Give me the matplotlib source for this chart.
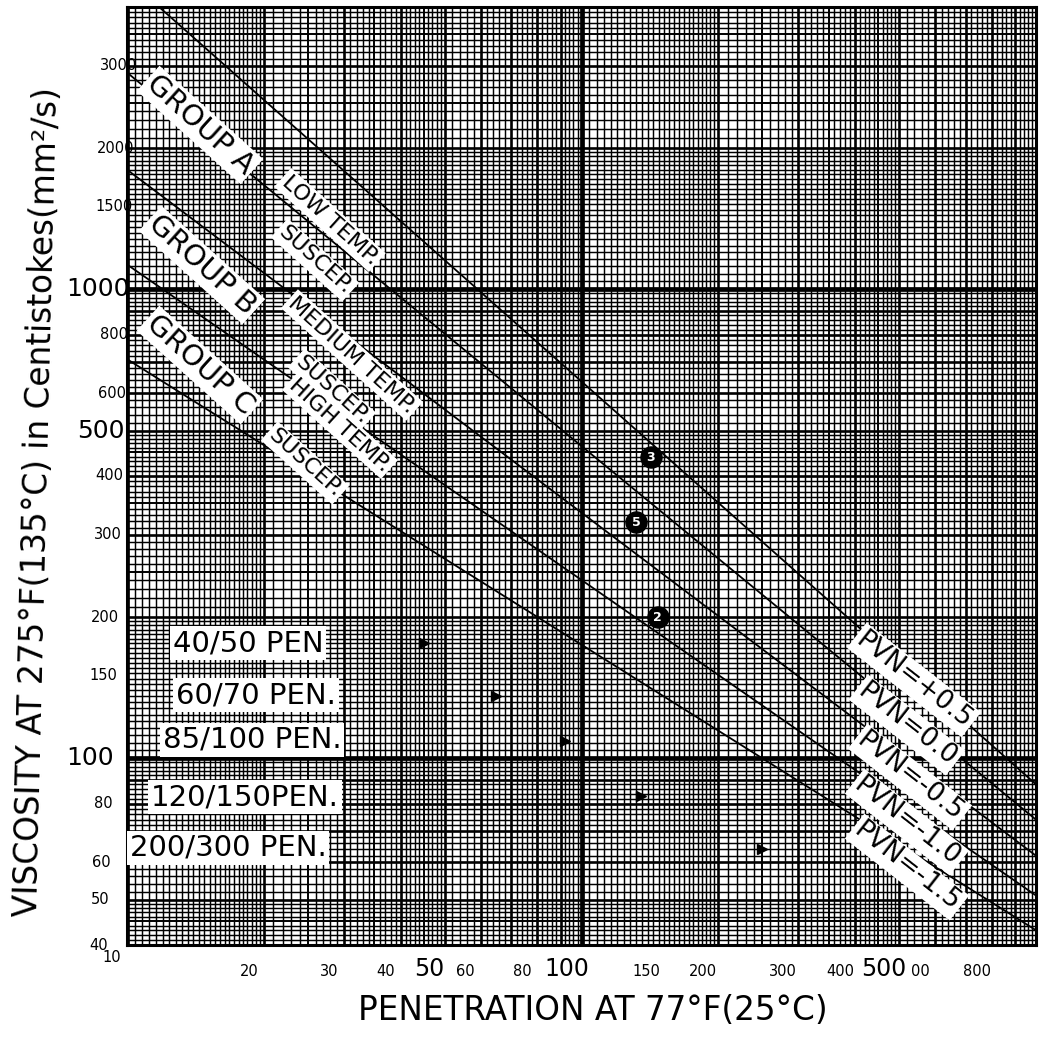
import numpy as np
import matplotlib
matplotlib.use('Agg')
import matplotlib.pyplot as plt
from matplotlib import transforms as mtrans
from matplotlib.ticker import NullLocator

# ---------------- data ----------------
pen_ticks = [10, 20, 30, 40, 50, 60, 80, 100, 150, 200, 300, 400, 500, 600, 800]
pen_tick_labels = ['10', '20', '30', '40', '50', '60', '80', '100', '150', '200',
                   '300', '400', '500', '00', '800']
pen_big = [50, 100, 500]

visc_ticks = [40, 50, 60, 80, 100, 150, 200, 300, 400, 500, 600, 800, 1000, 1500, 2000, 3000]
visc_tick_labels = ['40', '50', '60', '80', '100', '150', '200', '300', '400', '500',
                    '600', '800', '1000', '1500', '2000', '3000']
visc_big = [100, 500, 1000]

pvn_names = ['PVN=+0.5', 'PVN=0.0', 'PVN=-0.5', 'PVN=-1.0', 'PVN=-1.5']
pvn_pen_start = [10, 10, 10, 10, 10]
pvn_visc_start = [4600, 2900, 1800, 1130, 710]
pvn_pen_end = [1000, 1000, 1000, 1000, 1000]
pvn_visc_end = [88, 74, 62, 51, 43]

grade_names = ['40/50 PEN', '60/70 PEN.', '85/100 PEN.', '120/150PEN.', '200/300 PEN.']
grade_pen = [45, 65, 92, 135, 250]
grade_visc = [176, 136, 109, 83, 64]

circle_pen = [142, 132, 147]
circle_visc = [439, 319, 200]
circle_marks = ['3', '5', '2']

group_names = ['GROUP A', 'GROUP B', 'GROUP C']
group_notes = [['LOW TEMP.', 'SUSCEP.'], ['MEDIUM TEMP.', 'SUSCEP.'], ['HIGH TEMP.', 'SUSCEP.']]

# ---------------- figure ----------------
W, H = 1058, 1039
fig = plt.figure(figsize=(W / 100, H / 100), dpi=100)
fig.patch.set_facecolor('white')
L, R, T, B = 127, 1036, 7, 945
ax = fig.add_axes([L / W, 1 - B / H, (R - L) / W, (B - T) / H])
ax.set_xscale('log')
ax.set_yscale('log')
ax.set_xlim(10, 1000)
ax.set_ylim(40, 4000)
for a in (ax.xaxis, ax.yaxis):
    a.set_major_locator(NullLocator())
    a.set_minor_locator(NullLocator())
for s in ax.spines.values():
    s.set_linewidth(2.2)
    s.set_zorder(6)

# graph-paper rulings
def rulings(decades, lo, hi):
    fine, mid, major, dec = [], [], [], []
    for d in decades:
        for a, b, st in [(1, 2, 0.04), (2, 5, 0.1), (5, 10, 0.2)]:
            n = int(round((b - a) / st))
            for k in range(n):
                v = a + k * st
                val = v * d
                if val < lo * 0.999 or val > hi * 1.001:
                    continue
                if abs(v - 1) < 1e-9:
                    dec.append(val)
                elif abs(v - round(v)) < 1e-9:
                    major.append(val)
                elif abs(v * 2 - round(v * 2)) < 1e-9:
                    mid.append(val)
                else:
                    fine.append(val)
    return fine, mid, major, dec

xf, xm, xM, xD = rulings([10, 100], 10, 1000)
yf, ym, yM, yD = rulings([10, 100, 1000], 40, 4000)
for vals, lw in [(xf, 1.05), (xm, 1.4), (xM, 1.9), (xD, 3.4)]:
    ax.vlines(vals, 40, 4000, colors='k', lw=lw, zorder=1)
for vals, lw in [(yf, 1.05), (ym, 1.4), (yM, 1.9), (yD, 3.4)]:
    ax.hlines(vals, 10, 1000, colors='k', lw=lw, zorder=1)

# PVN lines
for i in range(len(pvn_names)):
    ax.plot([pvn_pen_start[i], pvn_pen_end[i]], [pvn_visc_start[i], pvn_visc_end[i]],
            color='k', lw=1.3, zorder=3)

# grade markers
ax.plot(grade_pen, grade_visc, ls='none', marker='>', ms=7, color='k', zorder=4)

# circled marks
ax.scatter(circle_pen, circle_visc, s=230, c='k', zorder=4)
for p, v, m in zip(circle_pen, circle_visc, circle_marks):
    ax.text(p, v, m, color='white', fontsize=9, fontweight='bold',
            ha='center', va='center', zorder=5)

# ---------------- tick labels ----------------
def ref_left(ypx):
    return 112 + 31 * (945 - ypx) / 938.0

for v, lab in zip(visc_ticks, visc_tick_labels):
    ypx = 945 - 469 * np.log10(v / 40.0)
    dx = (ref_left(ypx) - L - 4) / 100.0
    tr = ax.get_yaxis_transform() + mtrans.ScaledTranslation(dx, 0, fig.dpi_scale_trans)
    big = v in visc_big
    ax.text(0, v, lab, transform=tr, ha='right', va='center',
            fontsize=18 if big else 10.5, clip_on=False)

for v, lab in zip(pen_ticks, pen_tick_labels):
    big = v in pen_big
    dy = -24 if big else -27
    if v == 10:
        dy = -12
    tr = ax.get_xaxis_transform() + mtrans.ScaledTranslation(-15 / 100.0, dy / 100.0,
                                                              fig.dpi_scale_trans)
    ax.text(v, 0, lab, transform=tr, ha='center', va='center',
            fontsize=17 if big else 10.5, clip_on=False)

# ---------------- annotations with white boxes ----------------
def put(txt, x, y, size, rot=0.0, pad=2.0):
    return fig.text(x / W, 1 - y / H, txt, fontsize=size, rotation=rot,
                    ha='center', va='center', rotation_mode='anchor',
                    bbox=dict(fc='white', ec='none', pad=pad), zorder=7)

gang = -42
put(group_names[0], 200, 125, 21, gang)
put(group_notes[0][0], 330, 220, 16, gang)
put(group_notes[0][1], 315, 260, 16, gang)
put(group_names[1], 202, 265, 21, gang)
put(group_notes[1][0], 352, 355, 16, gang)
put(group_notes[1][1], 332, 390, 16, gang)
put(group_names[2], 200, 365, 21, gang)
put(group_notes[2][0], 340, 425, 16, gang)
put(group_notes[2][1], 305, 463, 16, gang)

pvn_pos = [(914, 680), (907, 725), (910, 777), (907, 822), (907, 867)]
for name, (x, y) in zip(pvn_names, pvn_pos):
    put(name, x, y, 19, -38)

grade_pos = [(248, 643), (256, 695), (252, 740), (245, 797), (228, 848)]
for name, (x, y) in zip(grade_names, grade_pos):
    put(name, x, y, 21, 0)

# axis titles (fit to the reference lengths)
fig.canvas.draw()
ren = fig.canvas.get_renderer()

xt = fig.text(593 / W, 1 - 1010 / H, 'PENETRATION AT 77°F(25°C)', fontsize=24,
              ha='center', va='center')
ext = xt.get_window_extent(ren)
xt.set_fontsize(24 * 470.0 / ext.width)

yt = fig.text(38 / W, 1 - 502 / H, 'VISCOSITY AT 275°F(135°C) in Centistokes(mm²/s)',
              fontsize=24, rotation=90, ha='center', va='center', rotation_mode='anchor')
ext = yt.get_window_extent(ren)
yt.set_fontsize(24 * 830.0 / ext.height)
yt.set_rotation(88.6)

fig.savefig('out.png', dpi=100, facecolor='white')
